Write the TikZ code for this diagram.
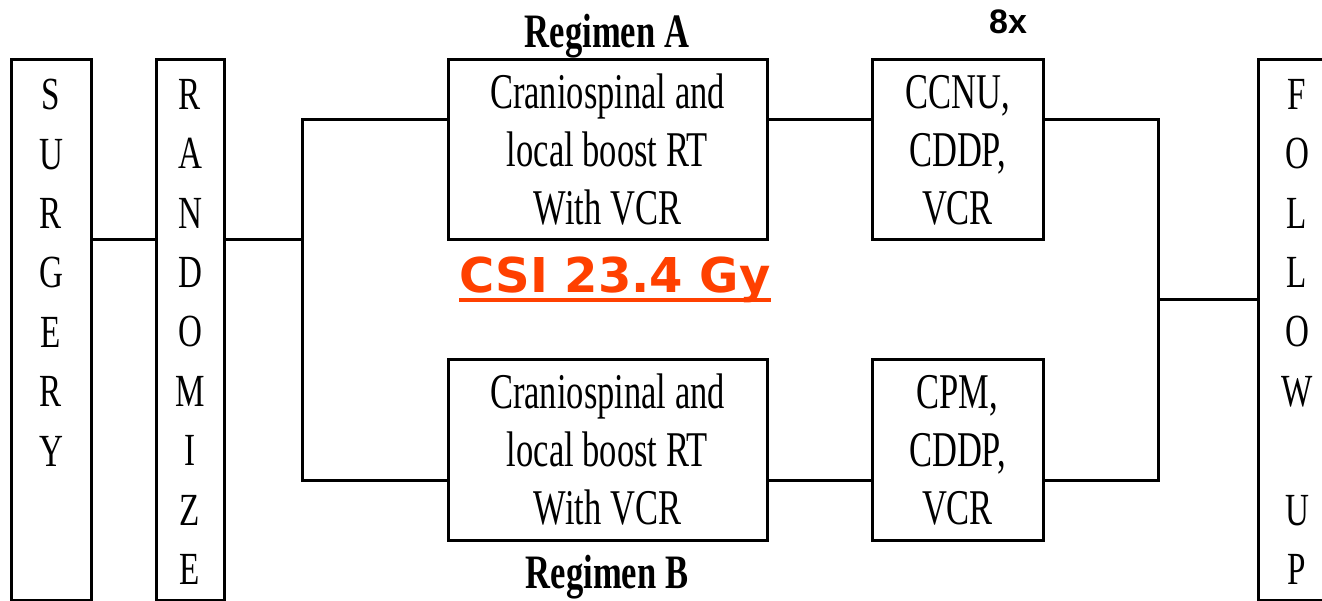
\documentclass[tikz,border=0pt]{standalone}
\usepackage{fontspec}
\setmainfont{Liberation Serif}
\newfontfamily\condfont[FakeStretch=0.69]{Liberation Serif}
\newfontfamily\letterfont[FakeStretch=0.72]{Liberation Serif}
\newfontfamily\regfont[FakeStretch=0.72]{Liberation Serif}
\newfontfamily\csifont{DejaVu Sans}
\newfontfamily\eightfont{Liberation Sans}
\definecolor{csired}{RGB}{255,64,0}
\begin{document}
\begin{tikzpicture}[x=1pt,y=-1pt,
  conn/.style={line width=3pt},
  box/.style={draw,line width=3pt,inner sep=0pt,align=center,
    font=\condfont\fontsize{50}{58}\selectfont},
  tallbox/.style={draw,line width=3pt,inner sep=0pt,minimum height=540pt},
  letters/.style={inner sep=0pt,align=center,anchor=north,
    font=\letterfont\fontsize{46}{59.4}\selectfont},
  reglabel/.style={inner sep=0pt,anchor=base,font=\regfont\bfseries\fontsize{48}{50}\selectfont}]
\useasboundingbox (0,0) rectangle (1322,601);
\fill[white] (0,0) rectangle (1322,601);

% tall boxes
\node[tallbox,minimum width=80pt] (surg) at (51,330) {};
\node[tallbox,minimum width=68pt] (rand) at (190,330) {};
\node[tallbox,minimum width=78pt] (follow) at (1297,330) {};
\node[letters] (surgtxt) at (51,79) {S\\U\\R\\G\\E\\R\\Y};
\node[letters] (randtxt) at (190,79) {R\\A\\N\\D\\O\\M\\I\\Z\\E};
\node[letters] (folltxt) at (1297,79) {F\\O\\L\\L\\O\\W\\[59.4pt]U\\P};

% treatment boxes
\node[box,minimum width=319pt,minimum height=180pt] (boxA) at (607.5,150)
  {Craniospinal and\\local boost RT\\With VCR};
\node[box,minimum width=319pt,minimum height=180pt] (boxB) at (607.5,450)
  {Craniospinal and\\local boost RT\\With VCR};
\node[box,minimum width=171pt,minimum height=180pt] (ccnu) at (957.5,150)
  {CCNU,\\CDDP,\\VCR};
\node[box,minimum width=171pt,minimum height=180pt] (cpm) at (957.5,450)
  {CPM,\\CDDP,\\VCR};

% labels
\node[reglabel] (regA) at (607,48) {Regimen A};
\node[reglabel] (regB) at (607,588) {Regimen B};
\node[inner sep=0pt,anchor=base,font=\eightfont\bfseries\fontsize{34}{36}\selectfont] (eight) at (1008,34) {8x};
\node[inner sep=0pt,anchor=base,text=csired,font=\csifont\bfseries\fontsize{48}{50}\selectfont] (csi) at (615,293) {CSI 23.4 Gy};
\draw[csired,line width=4pt] ([yshift=-7pt]csi.base west) -- ([yshift=-7pt]csi.base east);

% junction coordinates
\coordinate (j1) at (302,240);
\coordinate (jA) at (302,120);
\coordinate (jB) at (302,480);
\coordinate (kA) at (1158,120);
\coordinate (kB) at (1158,480);
\coordinate (k) at (1158,300);

% connectors
\draw[conn] (surg.east |- j1) -- (rand.west |- j1);
\draw[conn] (rand.east |- j1) -- (j1);
\draw[conn] (jA -| boxA.west) -- (jA) -- (jB) -- (jB -| boxB.west);
\draw[conn] (jA -| boxA.east) -- (jA -| ccnu.west);
\draw[conn] (jB -| boxB.east) -- (jB -| cpm.west);
\draw[conn] (jA -| ccnu.east) -- (kA) -- (kB) -- (jB -| cpm.east);
\draw[conn] (k) -- (k -| follow.west);
\end{tikzpicture}
\end{document}
